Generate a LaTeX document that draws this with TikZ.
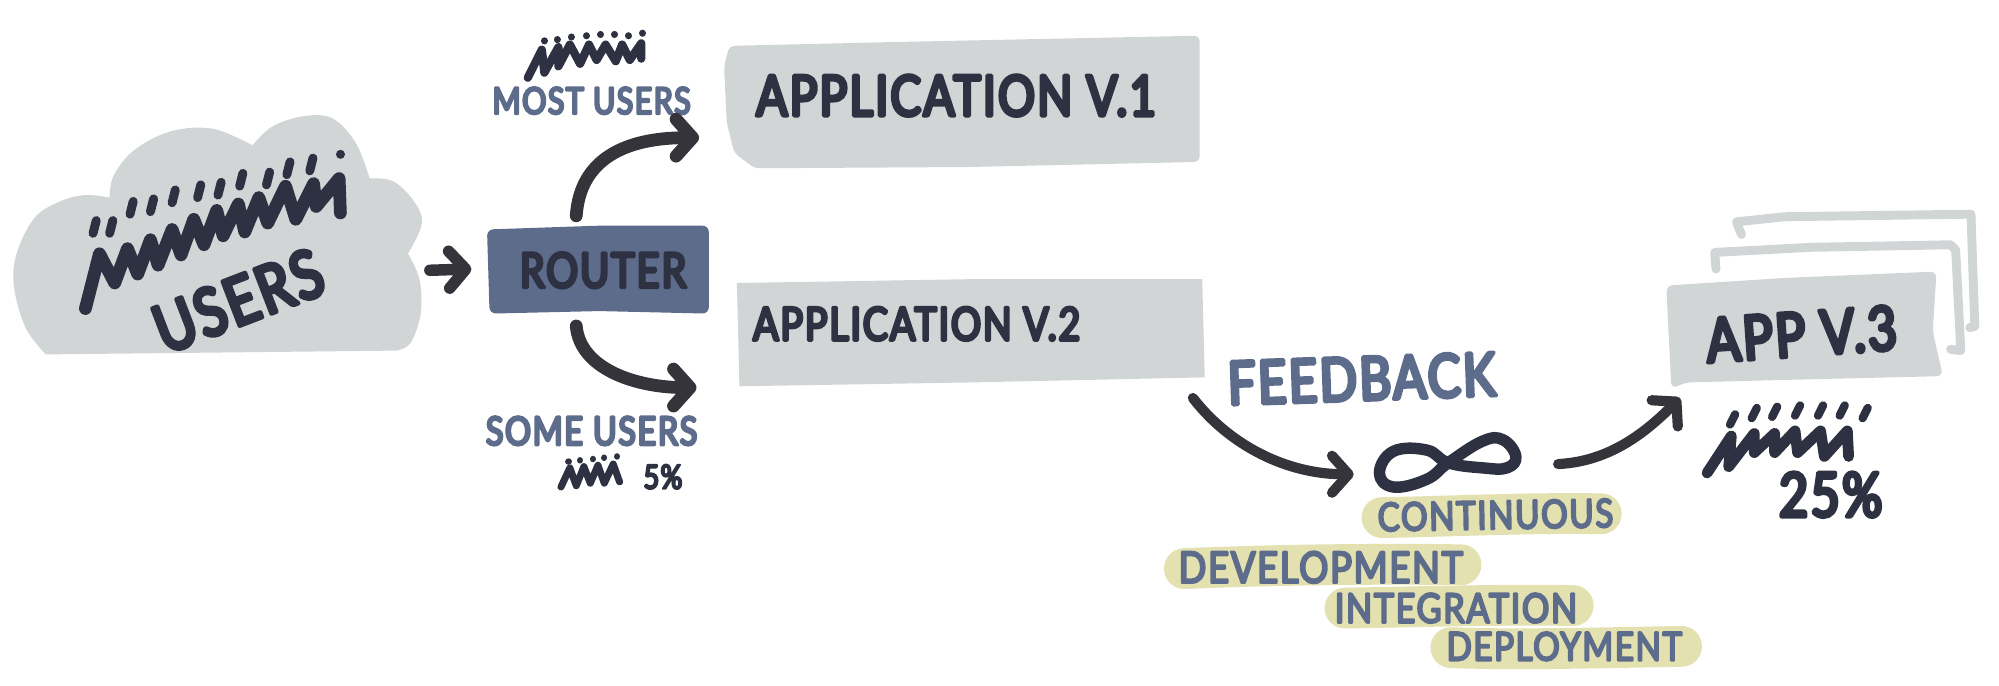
\documentclass[tikz,border=0pt]{standalone}
\usepackage{fontspec}
\usetikzlibrary{arrows.meta,calc}
\newfontfamily\hand[FakeBold=6.5,FakeStretch=0.82,LetterSpace=4]{Lato}
\newfontfamily\handthin[FakeBold=5,FakeStretch=0.84,LetterSpace=4]{Lato}
\definecolor{inkdark}{HTML}{2E3142}
\definecolor{inkarrow}{HTML}{35343B}
\definecolor{inkblue}{HTML}{5E6C8C}
\definecolor{boxgray}{HTML}{D1D5D6}
\definecolor{marker}{HTML}{E3E1B0}
\tikzset{
  lettering/.style={inner sep=0pt,text=inkdark},
  darkfive/.style={lettering,font=\hand\fontsize{#1}{#1}\selectfont},
  bluelabel/.style={inner sep=0pt,text=inkblue,font=\hand\fontsize{#1}{#1}\selectfont},
  markerlabel/.style={inner sep=0pt,text=inkblue,font=\handthin\fontsize{#1}{#1}\selectfont},
  anchorbox/.style={inner sep=0pt,minimum width=#1},
  flow/.style={draw=inkarrow,line width=#1,-{Straight Barb[length=13pt,width=29pt,round]}},
  scrib/.style={draw=inkdark,line width=#1},
  bandline/.style={draw=marker,line width=32pt},
  ghost/.style={draw=boxgray,line width=7pt},
  blob/.style={fill=boxgray},
}
\begin{document}
\begin{tikzpicture}[x=1pt,y=-1pt,line join=round,line cap=round]
\useasboundingbox (0,0) rectangle (1568,538);

% Cloud
\path[blob] plot[smooth,tension=0.6] coordinates {(198,114) (214,99) (239,91) (261,93) (279,112) (290,140)}
  -- plot[smooth,tension=0.6] coordinates {(290,140) (308,142) (324,157) (331,175) (320,199)}
  -- plot[smooth,tension=0.6] coordinates {(320,199) (329,219) (330,246) (322,269) (311,275)}
  -- plot[smooth,tension=0.6] coordinates {(36,278) (20,257) (11,225) (13,199) (27,171) (47,158) (67,153) (86,155)}
  -- plot[smooth,tension=0.6] coordinates {(86,155) (89,138) (105,118) (134,103) (167,101) (198,114)} -- cycle;

% Boxes (hand-drawn outlines)
\path[blob,rounded corners=4pt] (572,36) -- (700,33) -- (941,28) -- (941,127) -- (760,131) -- (592,132)
  -- (576,120) -- (570,96) -- (568,52) -- cycle;
\path[blob] (578,222) -- (760,219) -- (943,219) -- (945,296) -- (760,300) -- (580,303) -- cycle;
\path[blob,rounded corners=5pt] (1307,224) -- (1400,218) -- (1519,213) -- (1516,260) -- (1524,295)
  -- (1400,298) -- (1322,300) -- (1311,305) -- cycle;
\draw[ghost] (1346,211) -- (1345,198) -- (1420,194) -- (1530,192) -- (1534,196) -- (1538,275) -- (1530,274);
\draw[ghost] (1366,184) -- (1362,174) -- (1400,170) -- (1546,168) -- (1549,256) -- (1545,257);

\path[fill=inkblue,rounded corners=5pt] (382,180) -- (470,177) -- (556,177) -- (556,246) -- (470,244) -- (384,246) -- cycle;

% Named anchors
\node[anchorbox=174pt,minimum height=69pt] (router) at (469,211) {};
\node[darkfive=38] (routertext) at (473,212) {ROUTER};
\node[anchorbox=322pt,minimum height=190pt] (usersbox) at (170,184) {};
\node[darkfive=52,rotate=21] (userstext) at (187,236) {USERS};
\node[anchorbox=373pt,minimum height=102pt] (app1) at (755,80) {};
\node[anchorbox=367pt,minimum height=84pt] (app2) at (761,261) {};
\node[anchorbox=214pt,minimum height=88pt] (app3) at (1415,258) {};
\node[darkfive=44] (app1text) at (750,75) {APPLICATION V.1};
\node[darkfive=36] (app2text) at (719,254) {APPLICATION V.2};
\node[darkfive=48,rotate=4] (app3text) at (1413,262) {APP V.3};
\node[bluelabel=29] (most) at (464,79) {MOST USERS};
\node[bluelabel=31] (some) at (464,338) {SOME USERS};
\node[darkfive=26] (five) at (520,374) {5\%};
\node[darkfive=48] (quarter) at (1436,388) {25\%};
\node[bluelabel=47,rotate=2] (feedback) at (1068,297) {FEEDBACK};

% Infinity
\node[inner sep=0pt,minimum width=120pt,minimum height=44pt] (inf) at (1136,365) {};
\draw[scrib=9pt,smooth cycle,tension=0.7] plot coordinates {(1082,371) (1093,354) (1119,353) (1136,363) (1163,367) (1182,367) (1189,358) (1179,345) (1163,346) (1136,363) (1119,376) (1093,382)};

% Marker bands and their words
\draw[bandline] (1084,406) .. controls (1140,405) and (1200,402) .. (1256,403);
\draw[bandline] (929,446) .. controls (1000,443) and (1080,442) .. (1146,443);
\draw[bandline] (1055,477) .. controls (1110,476) and (1180,474) .. (1234,475);
\draw[bandline] (1138,508) .. controls (1190,510) and (1260,508) .. (1319,507);
\node[markerlabel=31,rotate=1] (cont) at (1173,404) {CONTINUOUS};
\node[markerlabel=34] (devel) at (1036,445) {DEVELOPMENT};
\node[markerlabel=32] (integ) at (1142,477) {INTEGRATION};
\node[markerlabel=31] (deploy) at (1227,507) {DEPLOYMENT};

% Connectors
\draw[flow=9pt] ([xshift=6pt,yshift=-28pt]usersbox.east) -- ([xshift=-12pt]router.west);
\draw[flow=10pt] ([xshift=-17pt,yshift=7pt]router.north) .. controls (455,125) and (490,108) .. ([xshift=-20pt,yshift=-28pt]app1.west);
\draw[flow=10pt] ([xshift=-17pt,yshift=-10pt]router.south) .. controls (455,290) and (500,304) .. ([xshift=-31pt,yshift=-43pt]app2.west);
\draw[flow=8pt] ([xshift=-9pt,yshift=-9pt]app2.south east) .. controls (965,350) and (1010,372) .. ([xshift=-14pt,yshift=-7pt]inf.west);
\draw[flow=8pt] ([xshift=26pt,yshift=1pt]inf.east) .. controls (1262,362) and (1290,340) .. ([xshift=10pt,yshift=-10pt]app3.south west);

% User scribbles
\draw[scrib=10pt] plot coordinates {(67,242) (78,199) (90,222) (100,195) (108,215) (118,188) (124,208) (135,180) (142,200) (152,172) (160,192) (170,165) (175,185) (187,160) (192,182) (203,155) (210,175) (224,146) (232,172) (246,144) (248,162) (266,140) (267,167)};
\foreach \x/\y in {74/178,87/178,103/163,119/161,136/154,156/150,172/148,189/141,210/140,226/132,244/129}
  \draw[scrib=7pt] (\x-1,\y+5) -- (\x+1.5,\y-5);
\draw[scrib=7pt] (267,121) -- (267,121.1);

\draw[scrib=6.5pt] plot coordinates {(414,61) (425,39) (427,57) (438,37) (438,52) (447,35) (455,50) (462,35) (468,47) (475,35) (483,48) (488,35) (494,47) (503,34) (503,46)};
\foreach \x/\y in {427/32,437/31,448/29,460/28,471/27,482/27,493/28,504/26}
  \draw[scrib=5.5pt] (\x,\y) -- (\x,\y+0.1);

\draw[scrib=5.5pt] plot coordinates {(440,382) (447,367) (452,381) (458,366) (463,379) (469,365) (474,379) (481,364) (486,378)};
\foreach \x/\y in {446/362,455/361,465/360,474/359,484/358}
  \draw[scrib=5pt] (\x,\y) -- (\x,\y+0.1);

\draw[scrib=8.5pt] plot coordinates {(1339,371) (1358,342) (1356,366) (1376,340) (1376,355) (1392,340) (1392,355) (1408,338) (1410,355) (1428,338) (1431,358) (1449,338) (1450,358)};
\foreach \x/\y in {1359/329,1376/324,1392/323,1410/322,1428/322,1445/322,1463/324}
  \draw[scrib=6.5pt] (\x-2,\y+4) -- (\x+2,\y-4);
\end{tikzpicture}
\end{document}
